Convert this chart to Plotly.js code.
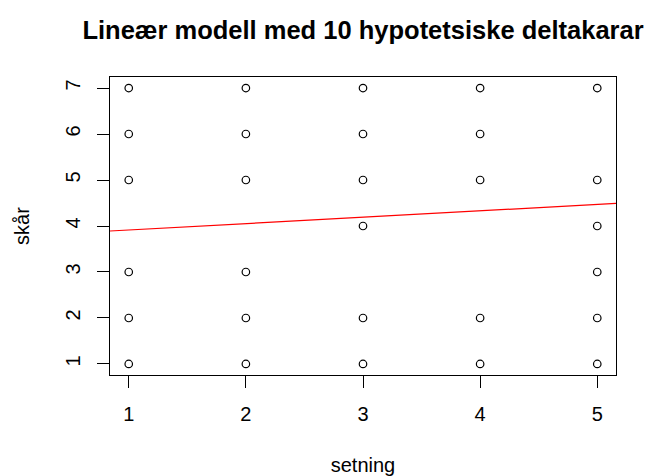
<!DOCTYPE html>
<html>
<head>
<meta charset="utf-8">
<script src="https://cdn.plot.ly/plotly-3.0.1.min.js"></script>
<style>html,body{margin:0;padding:0;background:#fff;}#chart{width:646px;height:476px;}</style>
</head>
<body>
<div id="chart"></div>
<script>
// Data (overlapping points drawn once)
var setning = [1,1,1,1,1,1, 2,2,2,2,2,2, 3,3,3,3,3,3, 4,4,4,4,4, 5,5,5,5,5,5];
var skaar   = [1,2,3,5,6,7, 1,2,3,5,6,7, 1,2,4,5,6,7, 1,2,5,6,7, 1,2,3,4,5,7];
var xTicks = [1,2,3,4,5];
var yTicks = [1,2,3,4,5,6,7];
// Fitted linear model (abline): intercept and slope
var intercept = 3.774;
var slope = 0.139;
var xRange = [0.84, 5.16];
var yRange = [0.76, 7.24];

var lineX = [xRange[0], xRange[1]];
var lineY = lineX.map(function(x){ return intercept + slope * x; });

var font = "Liberation Sans, Arial, sans-serif";

var traces = [
  {
    x: setning, y: skaar, type: 'scatter', mode: 'markers',
    marker: {symbol: 'circle-open', size: 7.5, color: '#000', line: {width: 1.2, color: '#000'}},
    hoverinfo: 'skip', showlegend: false
  },
  {
    x: lineX, y: lineY, type: 'scatter', mode: 'lines',
    line: {color: '#ff0000', width: 1.2},
    hoverinfo: 'skip', showlegend: false
  }
];

var layout = {
  width: 646, height: 476,
  margin: {l: 110, r: 30, t: 77, b: 101, pad: 0},
  paper_bgcolor: '#fff', plot_bgcolor: '#fff',
  font: {family: font, color: '#000', size: 20},
  showlegend: false,
  title: {
    text: 'Lineær modell med 10 hypotetsiske deltakarar',
    font: {family: font, size: 25.5, color: '#000', weight: 'bold'},
    x: 0.5, xref: 'paper', xanchor: 'center',
    y: 1 - 30/476, yref: 'container', yanchor: 'middle'
  },
  xaxis: {
    range: xRange, tickmode: 'array', tickvals: xTicks, ticktext: xTicks.map(String),
    showgrid: false, zeroline: false,
    showline: true, mirror: true, linecolor: '#000', linewidth: 1,
    ticks: 'outside', ticklen: 12, tickwidth: 1, tickcolor: '#000',
    tickfont: {family: font, size: 20, color: '#000'},
    ticklabelstandoff: 9,
    title: {text: 'setning', font: {family: font, size: 20, color: '#000'}, standoff: 33},
    automargin: false, fixedrange: true
  },
  yaxis: {
    range: yRange, tickmode: 'array', tickvals: yTicks, ticktext: yTicks.map(String),
    showgrid: false, zeroline: false,
    showline: true, mirror: true, linecolor: '#000', linewidth: 1,
    ticks: 'outside', ticklen: 12, tickwidth: 1, tickcolor: '#000',
    tickfont: {family: font, size: 20, color: '#000'},
    tickangle: -90,
    ticklabelstandoff: 9,
    title: {text: 'skår', font: {family: font, size: 20, color: '#000'}, standoff: 27},
    automargin: false, fixedrange: true
  }
};

Plotly.newPlot('chart', traces, layout, {displayModeBar: false, staticPlot: true});
</script>
</body>
</html>
